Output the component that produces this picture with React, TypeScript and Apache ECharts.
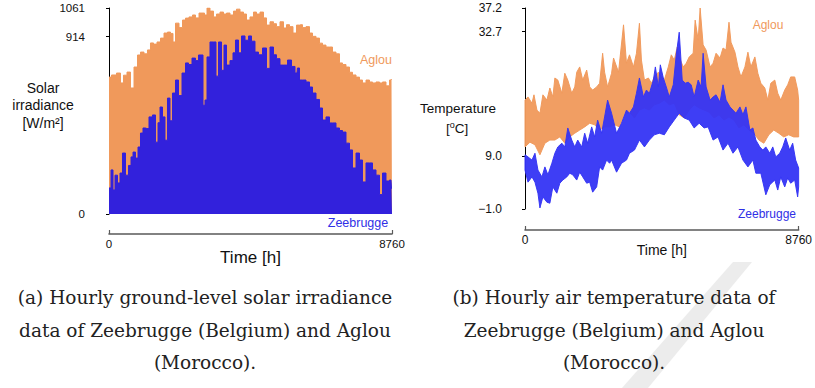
import React, { useEffect, useRef } from "react";
import * as echarts from "echarts";

// ---------- Solar irradiance (daily peak envelope, W/m2) ----------
const aglouSolarHours = [0,155,310,402,495,619,712,836,929,1021,1145,1238,1331,1424,1548,1641,1764,1857,1950,2012,2105,2229,2322,2414,2538,2631,2724,2848,2910,3003,3064,3188,3281,3374,3498,3591,3684,3807,3900,3993,4117,4210,4303,4426,4519,4612,4736,4829,4922,5046,5138,5231,5355,5448,5541,5634,5757,5850,5943,6036,6160,6253,6346,6469,6562,6655,6779,6872,6965,7088,7181,7274,7398,7491,7584,7708,7800,7893,8017,8110,8203,8327,8420,8512,8636,8729,8760];
const aglouSolarValues = [705,716,726,675,715,731,649,757,819,834,825,845,881,875,886,906,932,937,930,886,983,960,999,1009,1015,1025,1010,1035,1035,1025,1061,1045,1015,1030,1040,1030,1035,1025,1045,1055,1040,1030,999,1015,1040,1030,1040,1010,973,990,980,965,990,958,975,965,932,973,975,960,965,932,915,906,880,870,860,860,834,825,778,770,757,730,716,705,690,675,690,680,675,680,675,680,660,690,695];

const zeeSolarHours = [0,31,93,155,217,310,371,464,557,650,712,774,867,929,1021,1083,1176,1300,1393,1486,1548,1610,1702,1764,1857,1919,2012,2105,2198,2322,2414,2507,2631,2724,2817,2879,2941,3003,3064,3188,3281,3343,3436,3529,3591,3684,3807,3869,3962,4055,4148,4272,4365,4457,4581,4674,4829,4922,5046,5138,5231,5355,5448,5603,5696,5819,5850,5943,6036,6160,6253,6346,6469,6562,6655,6779,6872,6965,7088,7181,7274,7398,7491,7584,7708,7800,7893,8017,8110,8203,8327,8420,8512,8636,8729,8760];
const zeeSolarValues = [134,134,227,124,200,160,211,314,200,250,294,319,288,345,417,443,440,500,510,370,470,551,500,380,597,480,623,690,610,726,778,770,803,790,819,819,560,587,809,886,886,710,886,740,870,767,790,830,896,830,917,895,917,890,834,820,855,750,860,820,800,767,767,793,760,726,752,690,690,680,654,623,590,546,484,500,469,469,443,430,422,365,330,237,314,278,165,263,263,227,200,100,211,170,175,130];

// ---------- Air temperature (daily max / min envelopes, degC) ----------
const aglouTempHighHours = [0,96,223,287,382,478,573,701,796,892,956,1051,1179,1274,1370,1497,1593,1656,1752,1848,1975,2071,2166,2294,2389,2485,2548,2644,2771,2835,2994,3154,3249,3345,3472,3568,3663,3727,3823,3950,4046,4141,4269,4364,4460,4587,4683,4778,4874,4937,5065,5161,5256,5383,5447,5543,5606,5702,5798,5925,6021,6116,6244,6339,6435,6530,6594,6721,6817,6913,7040,7136,7231,7359,7454,7550,7677,7773,7868,7996,8091,8187,8314,8410,8505,8633,8728,8760];
const aglouTempHighValues = [19.7,20.3,19.1,20.7,17.8,17.2,20.7,19.7,22.0,20.3,23.9,23.5,21.0,24.8,23.5,21.0,22.2,25.0,26.0,23.5,25.4,22.2,21.6,22.2,22.9,28.6,25.0,22.2,24.8,27.7,25.0,34.0,26.7,28.3,26.0,28.6,34.3,27.3,23.5,23.9,22.9,24.1,25.0,24.1,23.5,26.0,28.3,27.3,29.8,27.9,26.0,26.7,27.9,28.6,34.9,31.1,37.2,30.2,29.2,26.0,26.7,28.6,27.7,29.6,29.2,34.5,30.7,28.8,26.0,24.1,26.0,28.8,26.0,27.9,24.8,22.9,22.0,19.7,22.9,23.5,21.0,19.7,21.6,22.6,24.1,24.1,21.6,19.7];
const aglouTempLowHours = [0,159,319,478,637,796,956,1115,1274,1433,1593,1752,1911,2071,2230,2389,2548,2708,2867,3026,3186,3345,3504,3663,3823,3982,4141,4300,4460,4619,4778,4937,5097,5256,5415,5575,5734,5893,6052,6212,6371,6530,6690,6849,7008,7167,7327,7486,7645,7805,7964,8123,8282,8441,8601,8760];
const aglouTempLowValues = [10.8,11.7,11.2,9.3,11.5,12.1,12.1,12.7,11.5,12.7,13.4,14.0,14.6,15.3,15.0,14.0,14.6,14.6,15.0,14.6,16.9,17.4,16.3,17.8,18.2,17.8,18.8,19.1,19.7,18.8,19.1,16.9,16.3,17.8,18.8,18.2,17.8,17.4,16.3,16.9,15.9,16.5,15.9,14.4,15.0,14.0,13.4,12.1,11.5,13.1,14.0,13.4,12.7,13.1,12.7,12.7];

const zeeTempHighHours = [0,96,223,319,414,542,637,733,860,956,1051,1179,1274,1370,1497,1593,1688,1816,1911,2007,2134,2230,2325,2453,2548,2644,2771,2931,3090,3249,3345,3472,3568,3663,3791,3886,3982,4109,4173,4269,4332,4428,4523,4619,4746,4842,4937,5033,5129,5224,5320,5415,5543,5638,5702,5798,5925,6021,6116,6244,6339,6435,6562,6658,6753,6881,6976,7072,7199,7295,7390,7518,7613,7709,7836,7932,8027,8155,8250,8346,8473,8569,8664,8760];
const zeeTempHighValues = [9.3,8.9,8.3,9.6,6.4,5.1,7.0,5.5,7.7,9.6,10.8,11.5,10.8,14.4,12.1,10.8,12.1,10.8,13.4,11.5,14.6,12.7,15.9,13.4,16.5,19.7,17.2,13.4,15.3,17.8,17.2,18.4,21.0,23.9,20.3,21.6,21.0,23.5,26.0,22.2,26.4,23.9,22.2,20.3,22.6,28.3,32.6,23.5,22.9,23.1,22.6,20.3,23.5,22.2,28.6,22.2,19.7,20.3,20.7,19.3,22.6,19.7,18.4,17.8,17.2,18.4,16.9,18.4,14.0,14.4,12.1,10.8,10.2,10.8,9.6,10.8,8.9,9.6,10.8,12.5,10.2,11.5,8.3,6.8];
const zeeTempLowHours = [0,96,223,319,414,478,573,701,796,892,1019,1115,1210,1338,1433,1529,1656,1752,1848,1975,2071,2166,2294,2389,2485,2612,2708,2771,2931,3090,3249,3345,3504,3663,3823,3982,4141,4300,4460,4619,4778,4937,5097,5256,5415,5575,5734,5861,6021,6180,6339,6499,6658,6817,6976,7136,7295,7390,7550,7709,7836,7996,8091,8187,8314,8410,8505,8633,8728,8760];
const zeeTempLowValues = [6.4,4.1,5.1,4.1,2.0,-0.8,1.3,0.3,0.1,3.2,2.0,3.9,4.5,5.1,5.8,5.5,4.5,6.0,5.1,3.9,4.1,2.2,3.2,7.0,6.4,8.3,7.7,8.3,6.0,7.7,8.3,9.6,10.2,12.1,10.8,12.1,13.1,13.4,13.1,14.6,15.9,17.2,16.3,15.9,14.4,15.3,14.4,14.6,12.1,12.7,10.2,11.5,9.6,10.8,8.3,7.0,8.3,5.8,5.8,1.7,3.6,4.5,2.6,5.1,3.2,4.9,3.9,4.5,1.3,3.2];

// ---------- Axis ticks ----------
const solarTicks = [0, 914, 1061];
const tempTicks = [-1.0, 9.0, 32.7, 37.2];

const ORANGE = "#F0995B";
const SOLAR_BLUE = "#3221DC";
const TEMP_BLUE = "#3434F4";
const LABEL_BLUE = "#2F2FE6";
const SANS = "Liberation Sans";
const SERIF = "DejaVu Serif";

function pairs(h: number[], v: number[]) {
  return h.map((x, i) => [x, v[i]]);
}

function band(hiH: number[], hiV: number[], loH: number[], loV: number[], color: string, z: number) {
  return {
    type: "custom",
    xAxisIndex: 1,
    yAxisIndex: 1,
    z,
    silent: true,
    data: [[hiH[0], hiV[0]]],
    renderItem: (_p: any, api: any) => {
      const pts: number[][] = [];
      for (let i = 0; i < hiH.length; i++) pts.push(api.coord([hiH[i], hiV[i]]));
      for (let i = loH.length - 1; i >= 0; i--) pts.push(api.coord([loH[i], loV[i]]));
      return {
        type: "polygon",
        shape: { points: pts },
        style: { fill: color, stroke: color, lineWidth: 1, opacity: 0.95 },
      };
    },
  };
}

function timeAxis(grid: number, offset: number, labelSize: number, nameSize: number, nameGap: number) {
  return {
    gridIndex: grid,
    type: "value",
    min: 0,
    max: 8760,
    interval: 8760,
    position: "bottom",
    offset,
    axisLine: { show: true, onZero: false, lineStyle: { color: "#5a5a5a", width: 1.6 } },
    axisTick: { show: true, inside: true, length: 4, lineStyle: { color: "#5a5a5a", width: 1.2 } },
    axisLabel: {
      show: true, showMinLabel: true, showMaxLabel: true, fontSize: labelSize, fontFamily: SANS, color: "#111", margin: 4,
      formatter: (v: number) => String(v),
    },
    splitLine: { show: false },
    name: "Time [h]",
    nameLocation: "middle",
    nameGap,
    nameMoveOverlap: false,
    nameTextStyle: { fontSize: nameSize, fontFamily: SANS, color: "#111" },
  };
}

function txt(x: number, y: number, text: string, fontSize: number, fill: string, family = SANS, extra: any = {}) {
  return { type: "text", x, y, silent: true, style: { text, fontSize, fontFamily: family, fill, align: "center", verticalAlign: "middle", ...extra } };
}

export default function App() {
  const ref = useRef<HTMLDivElement>(null);
  useEffect(() => {
    document.body.style.margin = "0";
    const chart = echarts.init(ref.current!, undefined, { renderer: "svg" });
    const fmtTemp = (v: number) => (v < 0 ? "\u2212" + Math.abs(v).toFixed(1) : v.toFixed(1));
    chart.setOption({
      animation: false,
      grid: [
        { left: 109, top: 8, width: 283, height: 206 },
        { left: 525, top: 8, width: 275, height: 201 },
      ],
      xAxis: [timeAxis(0, 20, 11.5, 17, 15), timeAxis(1, 21, 12, 14, 13)],
      yAxis: [
        {
          gridIndex: 0, type: "value", min: 0, max: 1061, offset: 21, position: "left",
          axisLine: { show: true, lineStyle: { color: "#000", width: 1 } },
          axisTick: { show: true, length: 3, customValues: solarTicks, lineStyle: { color: "#000" } },
          axisLabel: { customValues: solarTicks, fontSize: 11.5, fontFamily: SANS, color: "#111", margin: 3, formatter: (v: number) => String(v) },
          splitLine: { show: false },
        },
        {
          gridIndex: 1, type: "value", min: -1, max: 37.2, offset: 21, position: "left",
          axisLine: { show: true, lineStyle: { color: "#000", width: 1 } },
          axisTick: { show: true, length: 3, customValues: tempTicks, lineStyle: { color: "#000" } },
          axisLabel: { customValues: tempTicks, fontSize: 12, fontFamily: SANS, color: "#111", margin: 2, formatter: fmtTemp },
          splitLine: { show: false },
        },
      ],
      series: [
        {
          type: "line", xAxisIndex: 0, yAxisIndex: 0, data: pairs(aglouSolarHours, aglouSolarValues), step: "middle",
          showSymbol: false, symbol: "none", lineStyle: { color: ORANGE, width: 1 }, areaStyle: { color: ORANGE, opacity: 1 }, z: 2,
        },
        {
          type: "line", xAxisIndex: 0, yAxisIndex: 0, data: pairs(zeeSolarHours, zeeSolarValues), step: "middle",
          showSymbol: false, symbol: "none", lineStyle: { color: SOLAR_BLUE, width: 1 }, areaStyle: { color: SOLAR_BLUE, opacity: 1 }, z: 3,
        },
        band(aglouTempHighHours, aglouTempHighValues, aglouTempLowHours, aglouTempLowValues, ORANGE, 2),
        band(zeeTempHighHours, zeeTempHighValues, zeeTempLowHours, zeeTempLowValues, TEMP_BLUE, 3),
      ],
      graphic: [
        { type: "polygon", z: -10, silent: true, shape: { points: [[733, 262], [752, 262], [648, 388], [622, 388]] }, style: { fill: "#ececec" } },
        txt(43, 88, "Solar", 14, "#111"),
        txt(43, 105, "irradiance", 14, "#111"),
        txt(43, 123, "[W/m\u00B2]", 14, "#111"),
        txt(458, 108, "Temperature", 13.5, "#111"),
        txt(457, 128, "[{o|o}C]", 13.5, "#111", SANS, { rich: { o: { fontSize: 9, fontFamily: SANS, fill: "#111", verticalAlign: "top", padding: [0, 0, 7, 0] } } }),
        txt(376, 60, "Aglou", 12.5, ORANGE),
        txt(358, 223, "Zeebrugge", 12.5, LABEL_BLUE),
        txt(768, 25, "Aglou", 12, ORANGE),
        txt(767, 214, "Zeebrugge", 12, LABEL_BLUE),
        txt(205, 297, "(a) Hourly ground-level solar irradiance", 18.5, "#222", SERIF),
        txt(205, 330, "data of Zeebrugge (Belgium) and Aglou", 18.5, "#222", SERIF),
        txt(205, 362, "(Morocco).", 18.5, "#222", SERIF),
        txt(614, 297, "(b) Hourly air temperature data of", 18.5, "#222", SERIF),
        txt(614, 330, "Zeebrugge (Belgium) and Aglou", 18.5, "#222", SERIF),
        txt(614, 362, "(Morocco).", 18.5, "#222", SERIF),
      ],
    });
    return () => chart.dispose();
  }, []);
  return <div ref={ref} style={{ width: 815, height: 388 }} />;
}
